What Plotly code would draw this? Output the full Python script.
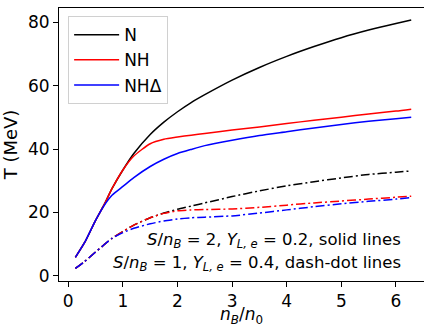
import plotly.graph_objects as go

# density grid n_B/n_0
x = [0.13, 0.3, 0.5, 0.65, 0.8, 1.0, 1.2, 1.5, 1.75, 2.0, 2.25, 2.5, 3.0, 3.5, 4.0, 4.5, 5.0, 5.5, 6.0, 6.28]

# S/n_B = 2, Y_L,e = 0.2 (solid)
T_N_s   = [5.8, 10.5, 17.5, 22.2, 27.5, 33.4, 38.6, 44.6, 48.5, 51.8, 54.7, 57.2, 61.8, 65.8, 69.3, 72.4, 75.2, 77.6, 79.7, 80.8]
T_NH_s  = [5.8, 10.5, 17.5, 22.2, 27.5, 33.4, 37.8, 41.7, 43.1, 43.8, 44.4, 44.9, 46.0, 47.0, 48.1, 49.1, 50.1, 51.1, 52.0, 52.6]
T_NHD_s = [5.8, 10.5, 17.5, 22.0, 25.4, 28.2, 31.0, 34.5, 36.8, 38.6, 39.9, 41.1, 42.8, 44.3, 45.5, 46.7, 47.8, 48.8, 49.6, 50.1]

# S/n_B = 1, Y_L,e = 0.4 (dash-dot)
T_N_d   = [2.3, 4.5, 7.5, 9.7, 11.8, 14.0, 16.0, 18.3, 19.8, 21.0, 22.0, 23.0, 25.0, 26.8, 28.4, 29.7, 30.9, 32.0, 32.7, 33.1]
T_NH_d  = [2.3, 4.5, 7.5, 9.7, 11.8, 14.0, 16.0, 18.3, 19.7, 20.5, 20.8, 20.9, 21.1, 21.6, 22.3, 23.0, 23.6, 24.2, 24.8, 25.1]
T_NHD_d = [2.3, 4.5, 7.5, 9.7, 11.8, 13.6, 15.0, 16.4, 17.3, 17.9, 18.3, 18.5, 18.9, 19.8, 20.8, 21.8, 22.7, 23.5, 24.2, 24.7]

names = ["N", "NH", "NHΔ"]
colors = ["black", "red", "blue"]

x_ticks = [0, 1, 2, 3, 4, 5, 6]
y_ticks = [0, 20, 40, 60, 80]

fig = go.Figure()
for name, col, ys in zip(names, colors, [T_N_s, T_NH_s, T_NHD_s]):
    fig.add_trace(go.Scatter(x=x, y=ys, mode="lines", name=name, legendgroup=name,
                             line=dict(color=col, width=1.5, shape="spline", smoothing=0.6)))
for name, col, ys in zip(names, colors, [T_N_d, T_NH_d, T_NHD_d]):
    fig.add_trace(go.Scatter(x=x, y=ys, mode="lines", name=name, showlegend=False,
                             legendgroup=name + "_d",
                             line=dict(color=col, width=1.5, dash="9px,3px,2px,3px",
                                       shape="spline", smoothing=0.6)))

font = "DejaVu Sans, Arial, sans-serif"
fig.update_layout(
    width=424, height=325,
    margin=dict(l=59, r=0, t=8, b=44, autoexpand=False),
    plot_bgcolor="white", paper_bgcolor="white",
    font=dict(family=font, size=17, color="black"),
    showlegend=True,
    legend=dict(x=0.025, y=0.97, xanchor="left", yanchor="top",
                bgcolor="rgba(255,255,255,0.8)", bordercolor="#d0d0d0", borderwidth=1,
                font=dict(size=17), itemwidth=45, traceorder="grouped", tracegroupgap=0),
    xaxis=dict(range=[-0.17, 6.514], tickvals=x_ticks, ticks="outside", ticklen=5,
               tickcolor="black", showline=True, linecolor="black", linewidth=1,
               mirror=True, showgrid=False, zeroline=False, automargin=False,
               tickfont=dict(size=17)),
    yaxis=dict(range=[-1.67, 84.58], tickvals=y_ticks, ticks="outside", ticklen=5,
               tickcolor="black", showline=True, linecolor="black", linewidth=1,
               showgrid=False, zeroline=False, tickfont=dict(size=17), automargin=False,
               title=dict(text="T (MeV)", font=dict(size=18), standoff=6)),
)

# x-axis title
fig.add_annotation(x=0.5, y=-0.128, xref="paper", yref="paper", xanchor="center", yanchor="middle",
                   showarrow=False, font=dict(size=17),
                   text="<i>n</i><sub><i>B</i></sub>/<i>n</i><sub>0</sub>")

fig.add_annotation(x=6.13, y=11.0, xref="x", yref="y", xanchor="right", yanchor="middle",
                   showarrow=False, font=dict(size=16.5),
                   text="<i>S</i>/<i>n</i><sub><i>B</i></sub> = 2, <i>Y</i><sub><i>L, e</i></sub> = 0.2, solid lines")
fig.add_annotation(x=6.13, y=4.0, xref="x", yref="y", xanchor="right", yanchor="middle",
                   showarrow=False, font=dict(size=16.5),
                   text="<i>S</i>/<i>n</i><sub><i>B</i></sub> = 1, <i>Y</i><sub><i>L, e</i></sub> = 0.4, dash-dot lines")

fig.write_html("out.html", config={"displayModeBar": False},
               post_script="document.body.style.margin='0';")
